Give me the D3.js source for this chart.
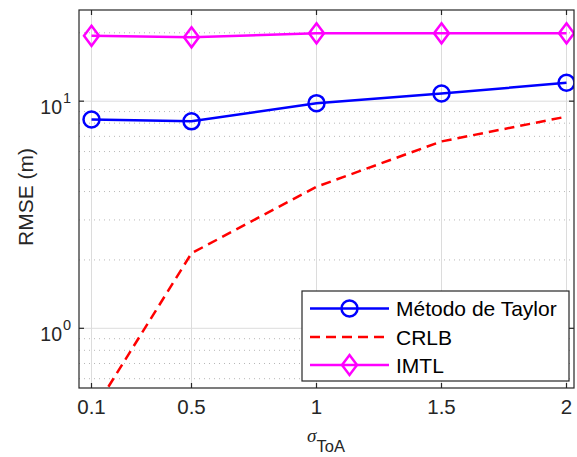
<!DOCTYPE html>
<html>
<head>
<meta charset="utf-8">
<script src="https://cdn.jsdelivr.net/npm/d3@7"></script>
<style>
  html, body { margin: 0; padding: 0; background: #fff; }
  svg { display: block; font-family: "Liberation Sans", Arial, sans-serif; }
</style>
</head>
<body>
<svg id="chart" width="577" height="457"></svg>
<script>
// σ_ToA values
const sigma = [0.1, 0.5, 1, 1.5, 2];
// RMSE (m) per method
const taylor = [8.3, 8.15, 9.8, 10.8, 12.05];
const crlb   = [0.42, 2.14, 4.2, 6.65, 8.55];
const imtl   = [19.4, 19.1, 19.9, 19.9, 19.9];
const xTickLabels = ["0.1", "0.5", "1", "1.5", "2"];
const yTickExps = [0, 1];
const seriesNames = ["Método de Taylor", "CRLB", "IMTL"];

const svg = d3.select("#chart");
const L = 79, R = 574, T = 10, B = 388;
const axisColor = "#262626";

const x = d3.scaleLinear().domain([0.05, 2.03]).range([L, R]);
const y = d3.scaleLog().domain([0.546, 25.2]).range([B, T]);

svg.append("defs").append("clipPath").attr("id", "plotClip")
  .append("rect").attr("x", L).attr("y", T).attr("width", R - L).attr("height", B - T);

// background
svg.append("rect").attr("x", L).attr("y", T).attr("width", R - L).attr("height", B - T).attr("fill", "#fff");

// minor grid (log)
const minorVals = [];
[0.1, 1, 10].forEach(d => { for (let k = 2; k <= 9; k++) { const v = d * k; if (v > y.domain()[0] && v < y.domain()[1]) minorVals.push(v); } });
svg.append("g").selectAll("line").data(minorVals).join("line")
  .attr("x1", L).attr("x2", R).attr("y1", d => y(d)).attr("y2", d => y(d))
  .attr("stroke", "#b8b8b8").attr("stroke-width", 1).attr("stroke-dasharray", "1,4");

// major grid
const gridG = svg.append("g").attr("stroke", "#dcdcdc").attr("stroke-width", 1);
gridG.selectAll(".gx").data(sigma).join("line")
  .attr("x1", d => x(d)).attr("x2", d => x(d)).attr("y1", T).attr("y2", B);
gridG.selectAll(".gy").data(yTickExps.map(e => Math.pow(10, e))).join("line")
  .attr("x1", L).attr("x2", R).attr("y1", d => y(d)).attr("y2", d => y(d));

// series
const plot = svg.append("g").attr("clip-path", "url(#plotClip)");
const line = vals => d3.line().x((d, i) => x(sigma[i])).y(d => y(d))(vals);

plot.append("path").attr("d", line(crlb)).attr("fill", "none")
  .attr("stroke", "#ff0000").attr("stroke-width", 2.5).attr("stroke-dasharray", "10,6");

plot.append("path").attr("d", line(taylor)).attr("fill", "none")
  .attr("stroke", "#0000ff").attr("stroke-width", 2.5);
plot.selectAll(".tc").data(taylor).join("circle")
  .attr("cx", (d, i) => x(sigma[i])).attr("cy", d => y(d)).attr("r", 8)
  .attr("fill", "none").attr("stroke", "#0000ff").attr("stroke-width", 2.5);

plot.append("path").attr("d", line(imtl)).attr("fill", "none")
  .attr("stroke", "#ff00ff").attr("stroke-width", 2.5);
const diamond = (cx, cy) => `M${cx},${cy - 10}L${cx + 7.5},${cy}L${cx},${cy + 10}L${cx - 7.5},${cy}Z`;
plot.selectAll(".im").data(imtl).join("path")
  .attr("d", (d, i) => diamond(x(sigma[i]), y(d)))
  .attr("fill", "none").attr("stroke", "#ff00ff").attr("stroke-width", 2.5);

// axes box + ticks (inward, all four sides)
const axG = svg.append("g").attr("stroke", axisColor).attr("stroke-width", 1.2);
axG.append("rect").attr("x", L).attr("y", T).attr("width", R - L).attr("height", B - T).attr("fill", "none");
sigma.forEach(v => {
  axG.append("line").attr("x1", x(v)).attr("x2", x(v)).attr("y1", B).attr("y2", B - 5);
  axG.append("line").attr("x1", x(v)).attr("x2", x(v)).attr("y1", T).attr("y2", T + 5);
});
yTickExps.forEach(e => {
  const v = Math.pow(10, e);
  axG.append("line").attr("x1", L).attr("x2", L + 5).attr("y1", y(v)).attr("y2", y(v));
  axG.append("line").attr("x1", R).attr("x2", R - 5).attr("y1", y(v)).attr("y2", y(v));
});

// x tick labels
svg.append("g").selectAll("text").data(sigma).join("text")
  .attr("x", d => x(d)).attr("y", 414).attr("text-anchor", "middle")
  .attr("font-size", 20.5).attr("fill", axisColor)
  .text((d, i) => xTickLabels[i]);

// y tick labels 10^e
yTickExps.forEach(e => {
  svg.append("text").attr("x", 62).attr("y", y(Math.pow(10, e)) + 12.5)
    .attr("text-anchor", "end").attr("font-size", 19.5).attr("fill", axisColor).text("10");
  svg.append("text").attr("x", 63).attr("y", y(Math.pow(10, e)) + 2)
    .attr("font-size", 14.5).attr("fill", axisColor).text(String(e));
});

// axis titles
svg.append("text").attr("transform", `translate(33,${(T + B) / 2 - 2}) rotate(-90)`)
  .attr("text-anchor", "middle").attr("font-size", 21).attr("fill", axisColor).text("RMSE (m)");
const xl = svg.append("text").attr("x", 326).attr("y", 442).attr("text-anchor", "middle")
  .attr("fill", axisColor);
xl.append("tspan").attr("font-family", "'Liberation Serif', 'DejaVu Serif', serif")
  .attr("font-style", "italic").attr("font-size", 19).text("σ");
xl.append("tspan").attr("font-size", 16.5).attr("dy", 10).text("ToA");

// legend
const lg = svg.append("g");
lg.append("rect").attr("x", 302).attr("y", 291).attr("width", 267).attr("height", 90)
  .attr("fill", "#fff").attr("stroke", axisColor).attr("stroke-width", 1.2);
const rowsY = [308.5, 337, 365];
const lx1 = 310, lx2 = 389, lmx = (lx1 + lx2) / 2;
// Taylor
lg.append("line").attr("x1", lx1).attr("x2", lx2).attr("y1", rowsY[0]).attr("y2", rowsY[0])
  .attr("stroke", "#0000ff").attr("stroke-width", 2.5);
lg.append("circle").attr("cx", lmx).attr("cy", rowsY[0]).attr("r", 8)
  .attr("fill", "none").attr("stroke", "#0000ff").attr("stroke-width", 2.5);
// CRLB
lg.append("line").attr("x1", lx1).attr("x2", lx2).attr("y1", rowsY[1]).attr("y2", rowsY[1])
  .attr("stroke", "#ff0000").attr("stroke-width", 2.5).attr("stroke-dasharray", "10,6");
// IMTL
lg.append("line").attr("x1", lx1).attr("x2", lx2).attr("y1", rowsY[2]).attr("y2", rowsY[2])
  .attr("stroke", "#ff00ff").attr("stroke-width", 2.5);
lg.append("path").attr("d", diamond(lmx, rowsY[2]))
  .attr("fill", "none").attr("stroke", "#ff00ff").attr("stroke-width", 2.5);
lg.selectAll(".lt").data(seriesNames).join("text")
  .attr("x", 396).attr("y", (d, i) => rowsY[i] + 7.5).attr("font-size", 21).attr("fill", "#000")
  .text(d => d);
</script>
</body>
</html>
